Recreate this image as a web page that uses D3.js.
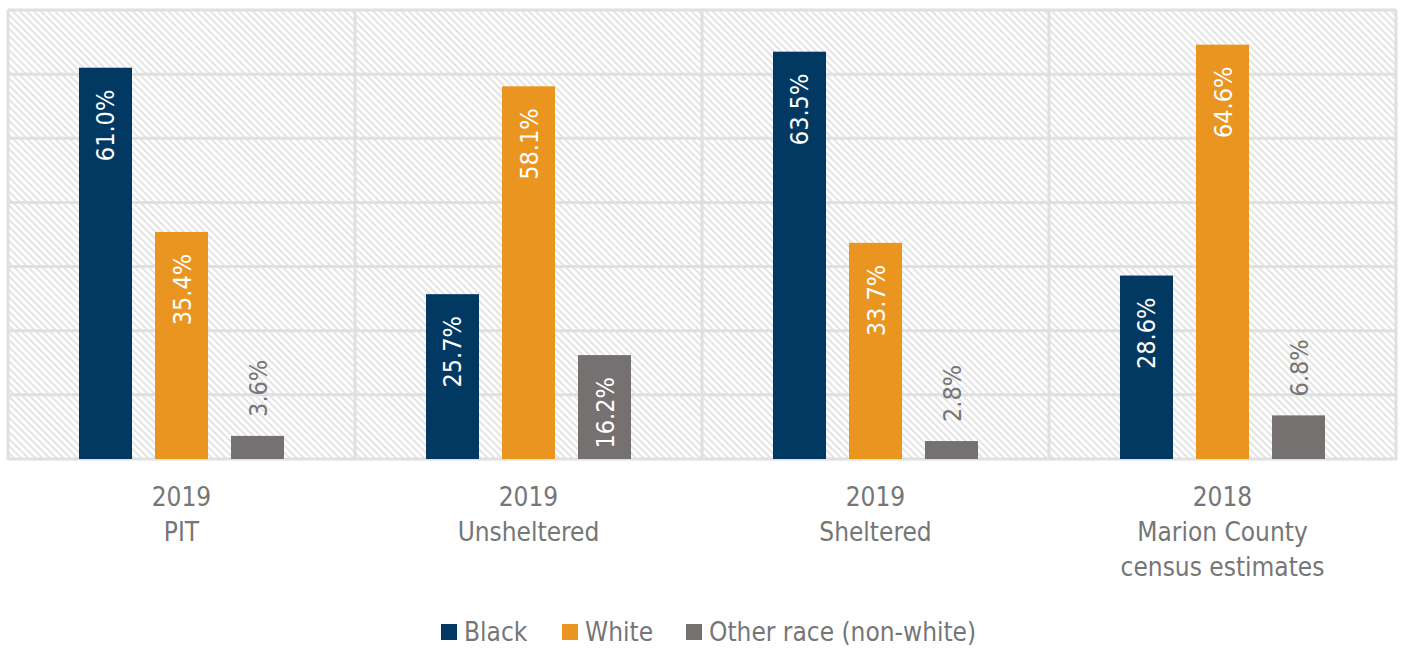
<!DOCTYPE html>
<html><head><meta charset="utf-8">
<script src="https://cdn.jsdelivr.net/npm/d3@7"></script>
<style>
body{margin:0;background:#fff;}
text{font-family:"Liberation Sans Narrow","DejaVu Sans Condensed",sans-serif;}
</style></head>
<body>
<svg id="chart" width="1402" height="648"></svg>
<script>
const categories = [["2019","PIT"],["2019","Unsheltered"],["2019","Sheltered"],["2018","Marion County","census estimates"]];
const series = ["Black","White","Other race (non-white)"];
const black = [61.0, 25.7, 63.5, 28.6];
const white = [35.4, 58.1, 33.7, 64.6];
const other = [3.6, 16.2, 2.8, 6.8];
const yTicks = [0,10,20,30,40,50,60,70];
const colors = ["#023963","#E9951F","#767171"];

(function(){
const values = [black, white, other];
const svg = d3.select("#chart");
const pL = 8, pR = 1396, pT = 10, pB = 459;

const defs = svg.append("defs");
const pat = defs.append("pattern").attr("id","hatch").attr("patternUnits","userSpaceOnUse")
  .attr("width",5).attr("height",5).attr("patternTransform","rotate(-45)");
pat.append("rect").attr("width",5).attr("height",5).attr("fill","#ffffff");
pat.append("line").attr("x1",1).attr("y1",0).attr("x2",1).attr("y2",5).attr("stroke","#dedede").attr("stroke-width",1.6);

const catIdx = categories.map((c,i)=>i);
const x0 = d3.scaleBand().domain(catIdx).range([pL,pR]).padding(0);
const x1 = d3.scaleBand().domain(series).range([0,x0.bandwidth()]).paddingInner(0.3026).paddingOuter(0.934);
const y = d3.scaleLinear().domain([0,70]).range([pB, pT]);

svg.append("rect").attr("x",pL).attr("y",pT).attr("width",pR-pL).attr("height",pB-pT).attr("fill","url(#hatch)");

svg.append("g").selectAll("line").data(yTicks).join("line")
  .attr("x1",pL).attr("x2",pR).attr("y1",d=>y(d)).attr("y2",d=>y(d))
  .attr("stroke","#e0e0e0").attr("stroke-width",3);
svg.append("g").selectAll("line").data(d3.range(5)).join("line")
  .attr("x1",d=>d===4?pR:x0(d)).attr("x2",d=>d===4?pR:x0(d)).attr("y1",pT).attr("y2",pB+1)
  .attr("stroke","#e0e0e0").attr("stroke-width",3);

const bars = [];
series.forEach((s,si)=>catIdx.forEach(ci=>bars.push({s,si,ci,v:values[si][ci]})));

svg.append("g").selectAll("rect").data(bars).join("rect")
  .attr("x",d=>x0(d.ci)+x1(d.s)).attr("width",x1.bandwidth())
  .attr("y",d=>y(d.v)).attr("height",d=>pB-y(d.v))
  .attr("fill",d=>colors[d.si]);

const inside = d => (pB - y(d.v)) > 85;
svg.append("g").selectAll("text").data(bars).join("text")
  .attr("transform",d=>{
    const cx = x0(d.ci)+x1(d.s)+x1.bandwidth()/2 + 9;
    const yy = inside(d) ? y(d.v)+22 : y(d.v)-19;
    return `translate(${cx},${yy}) rotate(-90)`;
  })
  .attr("text-anchor",d=>inside(d)?"end":"start")
  .attr("font-size",25)
  .attr("fill",d=>inside(d)?"#ffffff":"#767676")
  .text(d=>d.v.toFixed(1)+"%");

const cl = svg.append("g");
categories.forEach((lines,i)=>{
  const cx = x0(i)+x0.bandwidth()/2;
  const t = cl.append("text").attr("text-anchor","middle").attr("font-size",26).attr("fill","#767676");
  lines.forEach((l,j)=>t.append("tspan").attr("x",cx).attr("y",506+j*35).text(l));
});

const legX = [441, 562, 686];
const lg = svg.append("g");
series.forEach((s,i)=>{
  lg.append("rect").attr("x",legX[i]).attr("y",624).attr("width",16).attr("height",16).attr("fill",colors[i]);
  lg.append("text").attr("x",legX[i]+23).attr("y",641).attr("font-size",26).attr("fill","#767676").text(s);
});
})();
</script>
</body></html>
